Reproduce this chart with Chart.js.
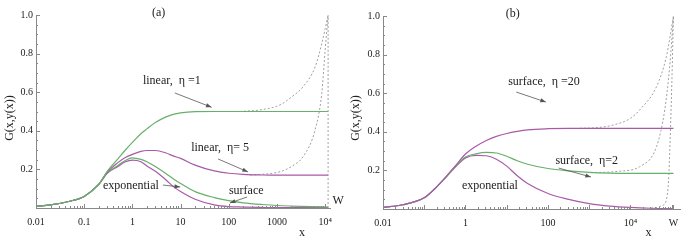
<!DOCTYPE html>
<html>
<head>
<meta charset="utf-8">
<script src="https://cdn.jsdelivr.net/npm/chart.js@4"></script>
<style>
  body { margin: 0; background: #fff; }
  #wrap { position: relative; width: 689px; height: 245px; }
  .panel { position: absolute; top: 0; height: 245px; }
</style>
</head>
<body>
<div id="wrap">
  <div class="panel" style="left:0;width:344px"><canvas id="chartA" width="344" height="245"></canvas></div>
  <div class="panel" style="left:344px;width:345px"><canvas id="chartB" width="345" height="245"></canvas></div>
</div>
<script>
// 1. DATOS PANEL (a)
const W_A = 11500;
const xA = [0.01, 0.02, 0.05, 0.1, 0.2, 0.3, 0.5, 0.7, 1, 1.5, 2, 3, 5, 7, 10, 20, 50, 100, 200, 500, 1000, 2000, 5000, 11500];
const linealEta1 = [0.009, 0.016, 0.035, 0.06, 0.123, 0.19, 0.255, 0.298, 0.34, 0.385, 0.41, 0.443, 0.472, 0.485, 0.493, 0.499, 0.5, 0.5, 0.5, 0.5, 0.5, 0.5, 0.5, 0.5];
const linealEta5 = [0.009, 0.016, 0.035, 0.06, 0.122, 0.185, 0.235, 0.26, 0.278, 0.293, 0.298, 0.298, 0.285, 0.27, 0.257, 0.222, 0.192, 0.18, 0.174, 0.171, 0.17, 0.17, 0.17, 0.17];
const superficieA = [0.009, 0.016, 0.035, 0.06, 0.122, 0.182, 0.22, 0.245, 0.26, 0.252, 0.24, 0.215, 0.178, 0.152, 0.127, 0.085, 0.054, 0.038, 0.027, 0.018, 0.013, 0.01, 0.007, 0.005];
const exponencialA = [0.009, 0.016, 0.035, 0.06, 0.122, 0.18, 0.215, 0.238, 0.248, 0.24, 0.218, 0.19, 0.145, 0.112, 0.085, 0.045, 0.016, 0.007, 0.005, 0.003, 0.002, 0.002, 0.002, 0.002];
// tramos discontinuos hacia W
const xDashA1 = [170, 500, 1150, 2000, 3470, 6170, 8510, 10000, 11500];
const dashA1 = [0.5, 0.51, 0.534, 0.575, 0.628, 0.73, 0.853, 0.93, 1.0];
const xDashA5 = [280, 1150, 2000, 3470, 6170, 8510, 10000, 11500];
const dashA5 = [0.17, 0.188, 0.215, 0.266, 0.404, 0.595, 0.82, 1.0];
const xLineaW_A = [11500, 11500];
const lineaW_A = [0, 1.0];
const ticksXA = ['0.01', '0.1', '1', '10', '100', '1000', '10\u2074'];
const valoresTicksXA = [0.01, 0.1, 1, 10, 100, 1000, 10000];

// 2. DATOS PANEL (b)
const W_B = 110000;
const xB = [0.01, 0.03, 0.1, 0.18, 0.32, 0.56, 1, 1.8, 3.2, 5.6, 10, 18, 32, 100, 316, 1000, 3160, 10000, 31600, 110000];
const superficieEta20 = [0.009, 0.022, 0.058, 0.105, 0.162, 0.222, 0.285, 0.325, 0.355, 0.376, 0.391, 0.402, 0.41, 0.416, 0.418, 0.418, 0.418, 0.418, 0.418, 0.418];
const superficieEta2 = [0.009, 0.022, 0.058, 0.105, 0.16, 0.218, 0.27, 0.286, 0.293, 0.29, 0.273, 0.25, 0.232, 0.21, 0.198, 0.19, 0.186, 0.185, 0.185, 0.185];
const exponencialB = [0.009, 0.022, 0.058, 0.105, 0.16, 0.216, 0.265, 0.278, 0.276, 0.258, 0.222, 0.172, 0.132, 0.08, 0.05, 0.028, 0.015, 0.008, 0.004, 0.002];
const xDashB20 = [590, 1600, 3800, 10000, 16600, 42700, 74100, 110000];
const dashB20 = [0.418, 0.422, 0.435, 0.47, 0.513, 0.634, 0.79, 1.0];
const xDashB2 = [1120, 5000, 16600, 42700, 67600, 89100, 110000];
const dashB2 = [0.188, 0.195, 0.219, 0.323, 0.513, 0.737, 1.0];
const xDashBexp = [31600, 61700, 81300, 97700, 110000];
const dashBexp = [0.004, 0.02, 0.11, 0.56, 1.0];
const ticksXB = ['0.01', '1', '100', '10\u2074', 'W'];
const valoresTicksXB = [0.01, 1, 100, 10000, 110000];

// eje y común
const ticksY = ['0.2', '0.4', '0.6', '0.8', '1.0'];
const valoresTicksY = [0.2, 0.4, 0.6, 0.8, 1.0];

const VERDE = '#66b06a';
const MORADO = '#a85aa8';
const GRIS = '#a0a0a0';
const FUENTE = '"Liberation Serif", "DejaVu Serif", serif';

// 3. UTILIDADES
const puntos = (xs, ys) => xs.map((x, i) => ({ x: x, y: ys[i] }));

// ojo: en Chart.js el primer dataset queda encima, así que las continuas van primero
function serie(xs, ys, color, discontinua) {
    return {
        data: puntos(xs, ys),
        borderColor: color,
        borderWidth: discontinua ? 1 : 1.2,
        borderDash: discontinua ? [2, 2] : [],
        pointRadius: 0,
        cubicInterpolationMode: 'monotone',
        fill: false
    };
}

function dibujarFlecha(ctx, x1, y1, x2, y2) {
    const ang = Math.atan2(y2 - y1, x2 - x1);
    ctx.strokeStyle = '#555';
    ctx.fillStyle = '#555';
    ctx.lineWidth = 0.8;
    ctx.beginPath();
    ctx.moveTo(x1, y1);
    ctx.lineTo(x2, y2);
    ctx.stroke();
    ctx.beginPath();
    ctx.moveTo(x2, y2);
    ctx.lineTo(x2 - 6 * Math.cos(ang - 0.35), y2 - 6 * Math.sin(ang - 0.35));
    ctx.lineTo(x2 - 6 * Math.cos(ang + 0.35), y2 - 6 * Math.sin(ang + 0.35));
    ctx.closePath();
    ctx.fill();
}

// ticks hacia dentro, textos y flechas
const pluginAnotaciones = {
    id: 'anotaciones',
    afterDraw(chart, args, opts) {
        const ctx = chart.ctx;
        const sx = chart.scales.x, sy = chart.scales.y;
        const area = chart.chartArea;
        ctx.save();
        ctx.strokeStyle = '#888';
        ctx.lineWidth = 1;
        sx.ticks.forEach(t => {
            const px = Math.round(sx.getPixelForValue(t.value)) + 0.5;
            const lg = Math.log10(t.value);
            const mayor = Math.abs(lg - Math.round(lg)) < 1e-6 || t.value === opts.W;
            ctx.beginPath();
            ctx.moveTo(px, area.bottom);
            ctx.lineTo(px, area.bottom - (mayor ? 4 : 2));
            ctx.stroke();
        });
        sy.ticks.forEach(t => {
            const py = Math.round(sy.getPixelForValue(t.value)) + 0.5;
            const mayor = Math.abs(t.value / 0.2 - Math.round(t.value / 0.2)) < 1e-6;
            ctx.beginPath();
            ctx.moveTo(area.left, py);
            ctx.lineTo(area.left + (mayor ? 4 : 2), py);
            ctx.stroke();
        });

        ctx.fillStyle = '#222';
        ctx.font = '12px ' + FUENTE;
        ctx.textAlign = 'center';
        ctx.textBaseline = 'middle';
        opts.textos.forEach(t => {
            ctx.fillText(t.texto, sx.getPixelForValue(t.x), sy.getPixelForValue(t.y));
        });
        opts.flechas.forEach(f => {
            dibujarFlecha(ctx, sx.getPixelForValue(f[0]), sy.getPixelForValue(f[1]),
                sx.getPixelForValue(f[2]), sy.getPixelForValue(f[3]));
        });

        // título del eje y
        ctx.fillStyle = '#222';
        ctx.translate(opts.tituloY[0], opts.tituloY[1]);
        ctx.rotate(-Math.PI / 2);
        ctx.fillText('G(x,y(x))', 0, 0);
        ctx.restore();
    }
};

// 4. CREAR PANEL
function crearPanel(id, cfg) {
    const ticksX = [];
    for (let e = -2; e <= 5; e++) {
        for (let k = 1; k <= 9; k++) {
            const v = Number((k * Math.pow(10, e)).toPrecision(6));
            if (v <= cfg.maxX) ticksX.push(v);
        }
    }
    if (cfg.conTickW) ticksX.push(cfg.W);

    return new Chart(document.getElementById(id), {
        type: 'line',
        data: { datasets: cfg.datasets },
        plugins: [pluginAnotaciones],
        options: {
            responsive: false,
            animation: false,
            layout: { padding: cfg.padding },
            plugins: {
                legend: { display: false },
                tooltip: { enabled: false },
                anotaciones: { textos: cfg.textos, flechas: cfg.flechas, W: cfg.W, tituloY: cfg.tituloY }
            },
            scales: {
                x: {
                    type: 'logarithmic',
                    min: 0.01,
                    max: cfg.maxX,
                    grid: { display: false, drawTicks: false },
                    border: { display: true, color: '#888', width: 1 },
                    afterBuildTicks: s => { s.ticks = ticksX.map(v => ({ value: v })); },
                    afterFit: s => { s.height = cfg.altoX; },
                    ticks: {
                        autoSkip: false,
                        maxRotation: 0,
                        padding: 8,
                        color: '#222',
                        font: { family: FUENTE, size: 10 },
                        callback: v => {
                            const i = cfg.valoresTicksX.findIndex(t => Math.abs(t / v - 1) < 1e-6);
                            return i >= 0 ? cfg.ticksX[i] : '';
                        }
                    }
                },
                y: {
                    min: 0,
                    max: 1,
                    grid: { display: false, drawTicks: false },
                    border: { display: true, color: '#888', width: 1 },
                    afterBuildTicks: s => {
                        const t = [];
                        for (let i = 0; i <= 20; i++) t.push({ value: i / 20 });
                        s.ticks = t;
                    },
                    afterFit: s => { s.width = cfg.anchoY; },
                    ticks: {
                        autoSkip: false,
                        padding: 3,
                        color: '#222',
                        font: { family: FUENTE, size: 10 },
                        callback: v => {
                            const i = valoresTicksY.findIndex(t => Math.abs(t - v) < 1e-6);
                            return i >= 0 ? ticksY[i] : '';
                        }
                    }
                }
            }
        }
    });
}

// 5. PANEL (a)
crearPanel('chartA', {
    maxX: 12590,
    W: W_A,
    conTickW: false,
    altoX: 37,
    anchoY: 36,
    padding: { top: 15, right: 14, left: 0, bottom: 0 },
    ticksX: ticksXA,
    valoresTicksX: valoresTicksXA,
    tituloY: [10, 118],
    datasets: [
        serie(xA, linealEta1, VERDE, false),
        serie(xA, linealEta5, MORADO, false),
        serie(xA, superficieA, VERDE, false),
        serie(xA, exponencialA, MORADO, false),
        serie(xDashA1, dashA1, GRIS, true),
        serie(xDashA5, dashA5, GRIS, true),
        serie(xLineaW_A, lineaW_A, GRIS, true)
    ],
    textos: [
        { texto: '(a)', x: 3.5, y: 1.01 },
        { texto: 'linear,  \u03b7 =1', x: 6.6, y: 0.658 },
        { texto: 'linear,  \u03b7= 5', x: 66, y: 0.311 },
        { texto: 'exponential', x: 0.93, y: 0.114 },
        { texto: 'surface', x: 230, y: 0.088 },
        { texto: 'W', x: 18600, y: 0.036 },
        { texto: 'x', x: 3300, y: -0.13 }
    ],
    flechas: [
        [7.6, 0.596, 44, 0.522],
        [60, 0.254, 250, 0.187],
        [4.3, 0.119, 9.8, 0.109],
        [240, 0.057, 105, 0.026]
    ]
});

// 6. PANEL (b)
crearPanel('chartB', {
    maxX: 158500,
    W: W_B,
    conTickW: true,
    altoX: 36,
    anchoY: 39,
    padding: { top: 16, right: 9, left: 0, bottom: 0 },
    ticksX: ticksXB,
    valoresTicksX: valoresTicksXB,
    tituloY: [12, 118],
    datasets: [
        serie(xB, superficieEta20, MORADO, false),
        serie(xB, superficieEta2, VERDE, false),
        serie(xB, exponencialB, MORADO, false),
        serie(xDashB20, dashB20, GRIS, true),
        serie(xDashB2, dashB2, GRIS, true),
        serie(xDashBexp, dashBexp, GRIS, true)
    ],
    textos: [
        { texto: '(b)', x: 14, y: 1.01 },
        { texto: 'surface,  \u03b7 =20', x: 80, y: 0.658 },
        { texto: 'surface,  \u03b7=2', x: 870, y: 0.249 },
        { texto: 'exponential', x: 3.9, y: 0.119 },
        { texto: 'x', x: 27500, y: -0.124 }
    ],
    flechas: [
        [17, 0.606, 89, 0.554],
        [182, 0.212, 1100, 0.166]
    ]
});
</script>
</body>
</html>
